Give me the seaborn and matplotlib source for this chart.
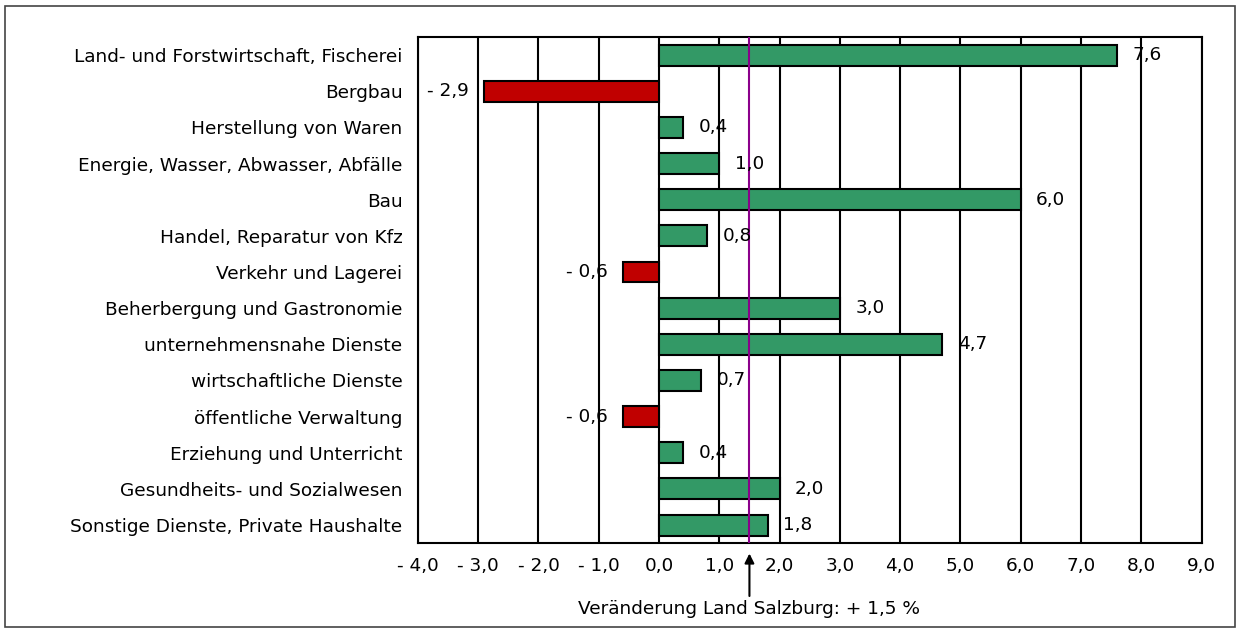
import matplotlib
matplotlib.use("Agg")
import matplotlib.pyplot as plt
import seaborn as sns
import pandas as pd
from matplotlib.patches import Rectangle

categories = [
    "Land- und Forstwirtschaft, Fischerei",
    "Bergbau",
    "Herstellung von Waren",
    "Energie, Wasser, Abwasser, Abfälle",
    "Bau",
    "Handel, Reparatur von Kfz",
    "Verkehr und Lagerei",
    "Beherbergung und Gastronomie",
    "unternehmensnahe Dienste",
    "wirtschaftliche Dienste",
    "öffentliche Verwaltung",
    "Erziehung und Unterricht",
    "Gesundheits- und Sozialwesen",
    "Sonstige Dienste, Private Haushalte",
]
values = [7.6, -2.9, 0.4, 1.0, 6.0, 0.8, -0.6, 3.0, 4.7, 0.7, -0.6, 0.4, 2.0, 1.8]
x_ticks = [-4, -3, -2, -1, 0, 1, 2, 3, 4, 5, 6, 7, 8, 9]
land_change = 1.5
annotation_text = "Veränderung Land Salzburg: + 1,5 %"

GREEN = "#339966"
RED = "#C00000"
FS = 13.3

def fmt(v):
    s = f"{abs(v):.1f}".replace(".", ",")
    return f"- {s}" if v < 0 else s

sns.set_style("white")
plt.rcParams["font.family"] = ["DejaVu Sans"]
plt.rcParams["text.color"] = "black"
plt.rcParams["xtick.color"] = "black"
plt.rcParams["ytick.color"] = "black"
plt.rcParams["xtick.labelcolor"] = "black"
plt.rcParams["ytick.labelcolor"] = "black"

df = pd.DataFrame({"cat": categories, "val": values})
colors = [GREEN if v >= 0 else RED for v in values]

fig = plt.figure(figsize=(12.4, 6.33), dpi=100)
ax = fig.add_axes([0.337, 0.142, 0.632, 0.7995])

sns.barplot(data=df, x="val", y="cat", hue="cat", palette=colors, legend=False,
            orient="h", width=0.58, edgecolor="black", linewidth=1.5, saturation=1,
            ax=ax, zorder=3)

ax.set_xlim(-4, 9)
ax.set_xticks(x_ticks)
ax.set_xticklabels([fmt(t) for t in x_ticks], fontsize=FS)
ax.set_ylim(len(categories) - 0.5, -0.5)
ax.set_xlabel("")
ax.set_ylabel("")
ax.tick_params(axis="y", length=0, labelsize=FS, pad=11)
ax.tick_params(axis="x", length=5, width=1.5, color="black", direction="out", pad=5)
ax.grid(axis="x", color="black", linewidth=1.5, zorder=0)
ax.grid(axis="y", visible=False)
for sp in ax.spines.values():
    sp.set_color("black")
    sp.set_linewidth(1.5)

for i, v in enumerate(values):
    if v >= 0:
        ax.annotate(fmt(v), (v, i), xytext=(11, 0), textcoords="offset points",
                    ha="left", va="center", fontsize=FS, zorder=5)
    else:
        ax.annotate(fmt(v), (v, i), xytext=(-11, 0), textcoords="offset points",
                    ha="right", va="center", fontsize=FS, zorder=5)

ax.axvline(land_change, color="#8B008B", linewidth=1.5, zorder=4)

trans = ax.get_xaxis_transform()
ax.annotate("", xy=(land_change, -0.015), xycoords=trans,
            xytext=(land_change, -0.11), textcoords=trans,
            arrowprops=dict(arrowstyle="-|>", color="black", lw=1.5, mutation_scale=14))
ax.text(land_change, -0.112, annotation_text, transform=trans,
        ha="center", va="top", fontsize=FS)

fig.patches.append(Rectangle((0.004, 0.01), 0.992, 0.98, transform=fig.transFigure,
                             fill=False, edgecolor="#444444", linewidth=1.2))

fig.savefig("out.png", dpi=100)
